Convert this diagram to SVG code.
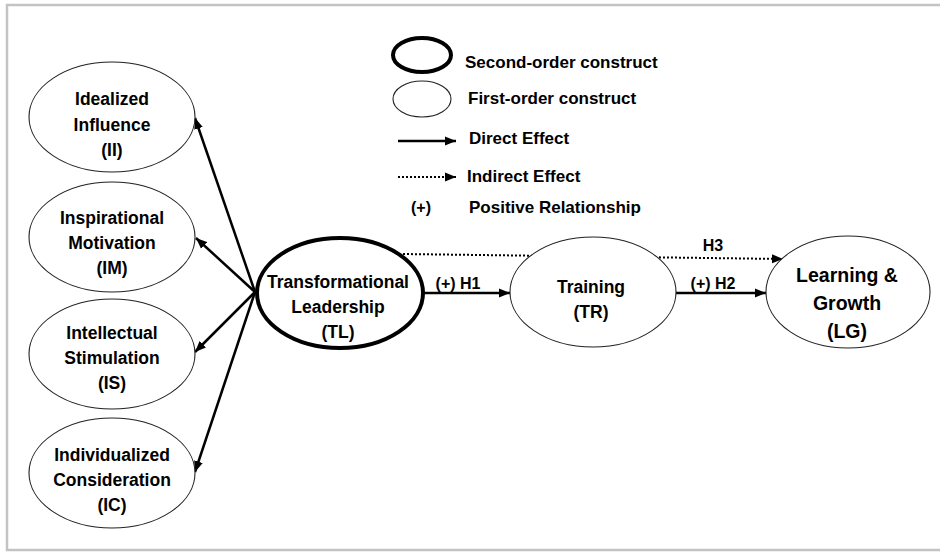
<svg xmlns="http://www.w3.org/2000/svg" width="940" height="552" viewBox="0 0 940 552">
<defs>
<style>
.frame{stroke:#c3c3c3;stroke-width:2.5;fill:none}
.n1{fill:#fff;stroke:#222;stroke-width:1.1}
.n2{fill:#fff;stroke:#000;stroke-width:4}
.t{font-family:"Liberation Sans",Arial,sans-serif;font-weight:bold;font-size:17.5px;fill:#000;text-anchor:middle}
.tl{font-family:"Liberation Sans",Arial,sans-serif;font-weight:bold;font-size:17px;fill:#000;text-anchor:start}
.lab{font-size:16px}
.big{font-size:19.5px}
.c{stroke:#000;stroke-width:2.5;fill:none;marker-end:url(#ah)}
.d{stroke:#000;stroke-width:2;stroke-dasharray:2 2;fill:none;marker-end:url(#ah)}
</style>
<marker id="ah" markerUnits="userSpaceOnUse" markerWidth="12" markerHeight="10" refX="11" refY="5" orient="auto">
<path d="M0,0.5 L11,5 L0,9.5 z" fill="#000"/>
</marker>
</defs>
<rect width="940" height="552" fill="#fff"/>
<path class="frame" d="M940,5 H7 V550 H940"/>

<g id="legend">
<ellipse class="n2" cx="422" cy="55" rx="29" ry="17"/>
<ellipse class="n1" cx="422" cy="99" rx="29" ry="18"/>
<line class="c" x1="398" y1="141" x2="456" y2="141"/>
<line class="d" x1="398" y1="177" x2="456" y2="177"/>
<text class="tl" x="465" y="68">Second-order construct</text>
<text class="tl" x="468" y="104">First-order construct</text>
<text class="tl" x="469" y="144">Direct Effect</text>
<text class="tl" x="467" y="182">Indirect Effect</text>
<text class="t lab" x="421" y="213">(+)</text>
<text class="tl" x="469" y="213">Positive Relationship</text>
</g>

<g id="connectors">
<line class="c" x1="255" y1="292" x2="195" y2="118"/>
<line class="c" x1="255" y1="292" x2="196" y2="238"/>
<line class="c" x1="255" y1="292" x2="195" y2="352"/>
<line class="c" x1="255" y1="292" x2="195" y2="472"/>
<line class="c" x1="423" y1="293" x2="510" y2="293"/>
<line class="c" x1="676" y1="293" x2="766" y2="293"/>
<line class="d" x1="403" y1="254" x2="783" y2="259"/>
<text class="t lab" x="458" y="289">(+) H1</text>
<text class="t lab" x="713" y="289">(+) H2</text>
<text class="t lab" x="713" y="251">H3</text>
</g>

<g id="II">
<ellipse class="n1" cx="112" cy="117" rx="83" ry="55"/>
<text class="t" x="112" y="105">Idealized</text>
<text class="t" x="112" y="131">Influence</text>
<text class="t" x="112" y="156">(II)</text>
</g>
<g id="IM">
<ellipse class="n1" cx="112" cy="237" rx="83" ry="55"/>
<text class="t" x="112" y="224">Inspirational</text>
<text class="t" x="112" y="249">Motivation</text>
<text class="t" x="112" y="274">(IM)</text>
</g>
<g id="IS">
<ellipse class="n1" cx="112" cy="354" rx="83" ry="55"/>
<text class="t" x="112" y="339">Intellectual</text>
<text class="t" x="112" y="364">Stimulation</text>
<text class="t" x="112" y="389">(IS)</text>
</g>
<g id="IC">
<ellipse class="n1" cx="112" cy="473" rx="83" ry="55"/>
<text class="t" x="112" y="461">Individualized</text>
<text class="t" x="112" y="486">Consideration</text>
<text class="t" x="112" y="511">(IC)</text>
</g>
<g id="TL">
<ellipse class="n2" cx="340" cy="293" rx="83" ry="55"/>
<text class="t" x="338" y="288">Transformational</text>
<text class="t" x="338" y="313">Leadership</text>
<text class="t" x="338" y="338">(TL)</text>
</g>
<g id="TR">
<ellipse class="n1" cx="593" cy="292" rx="83" ry="55"/>
<text class="t" x="591" y="293">Training</text>
<text class="t" x="591" y="318">(TR)</text>
</g>
<g id="LG">
<ellipse class="n1" cx="848" cy="292" rx="82" ry="56"/>
<text class="t big" x="847" y="282">Learning &amp;</text>
<text class="t big" x="847" y="310">Growth</text>
<text class="t big" x="847" y="338">(LG)</text>
</g>
</svg>
